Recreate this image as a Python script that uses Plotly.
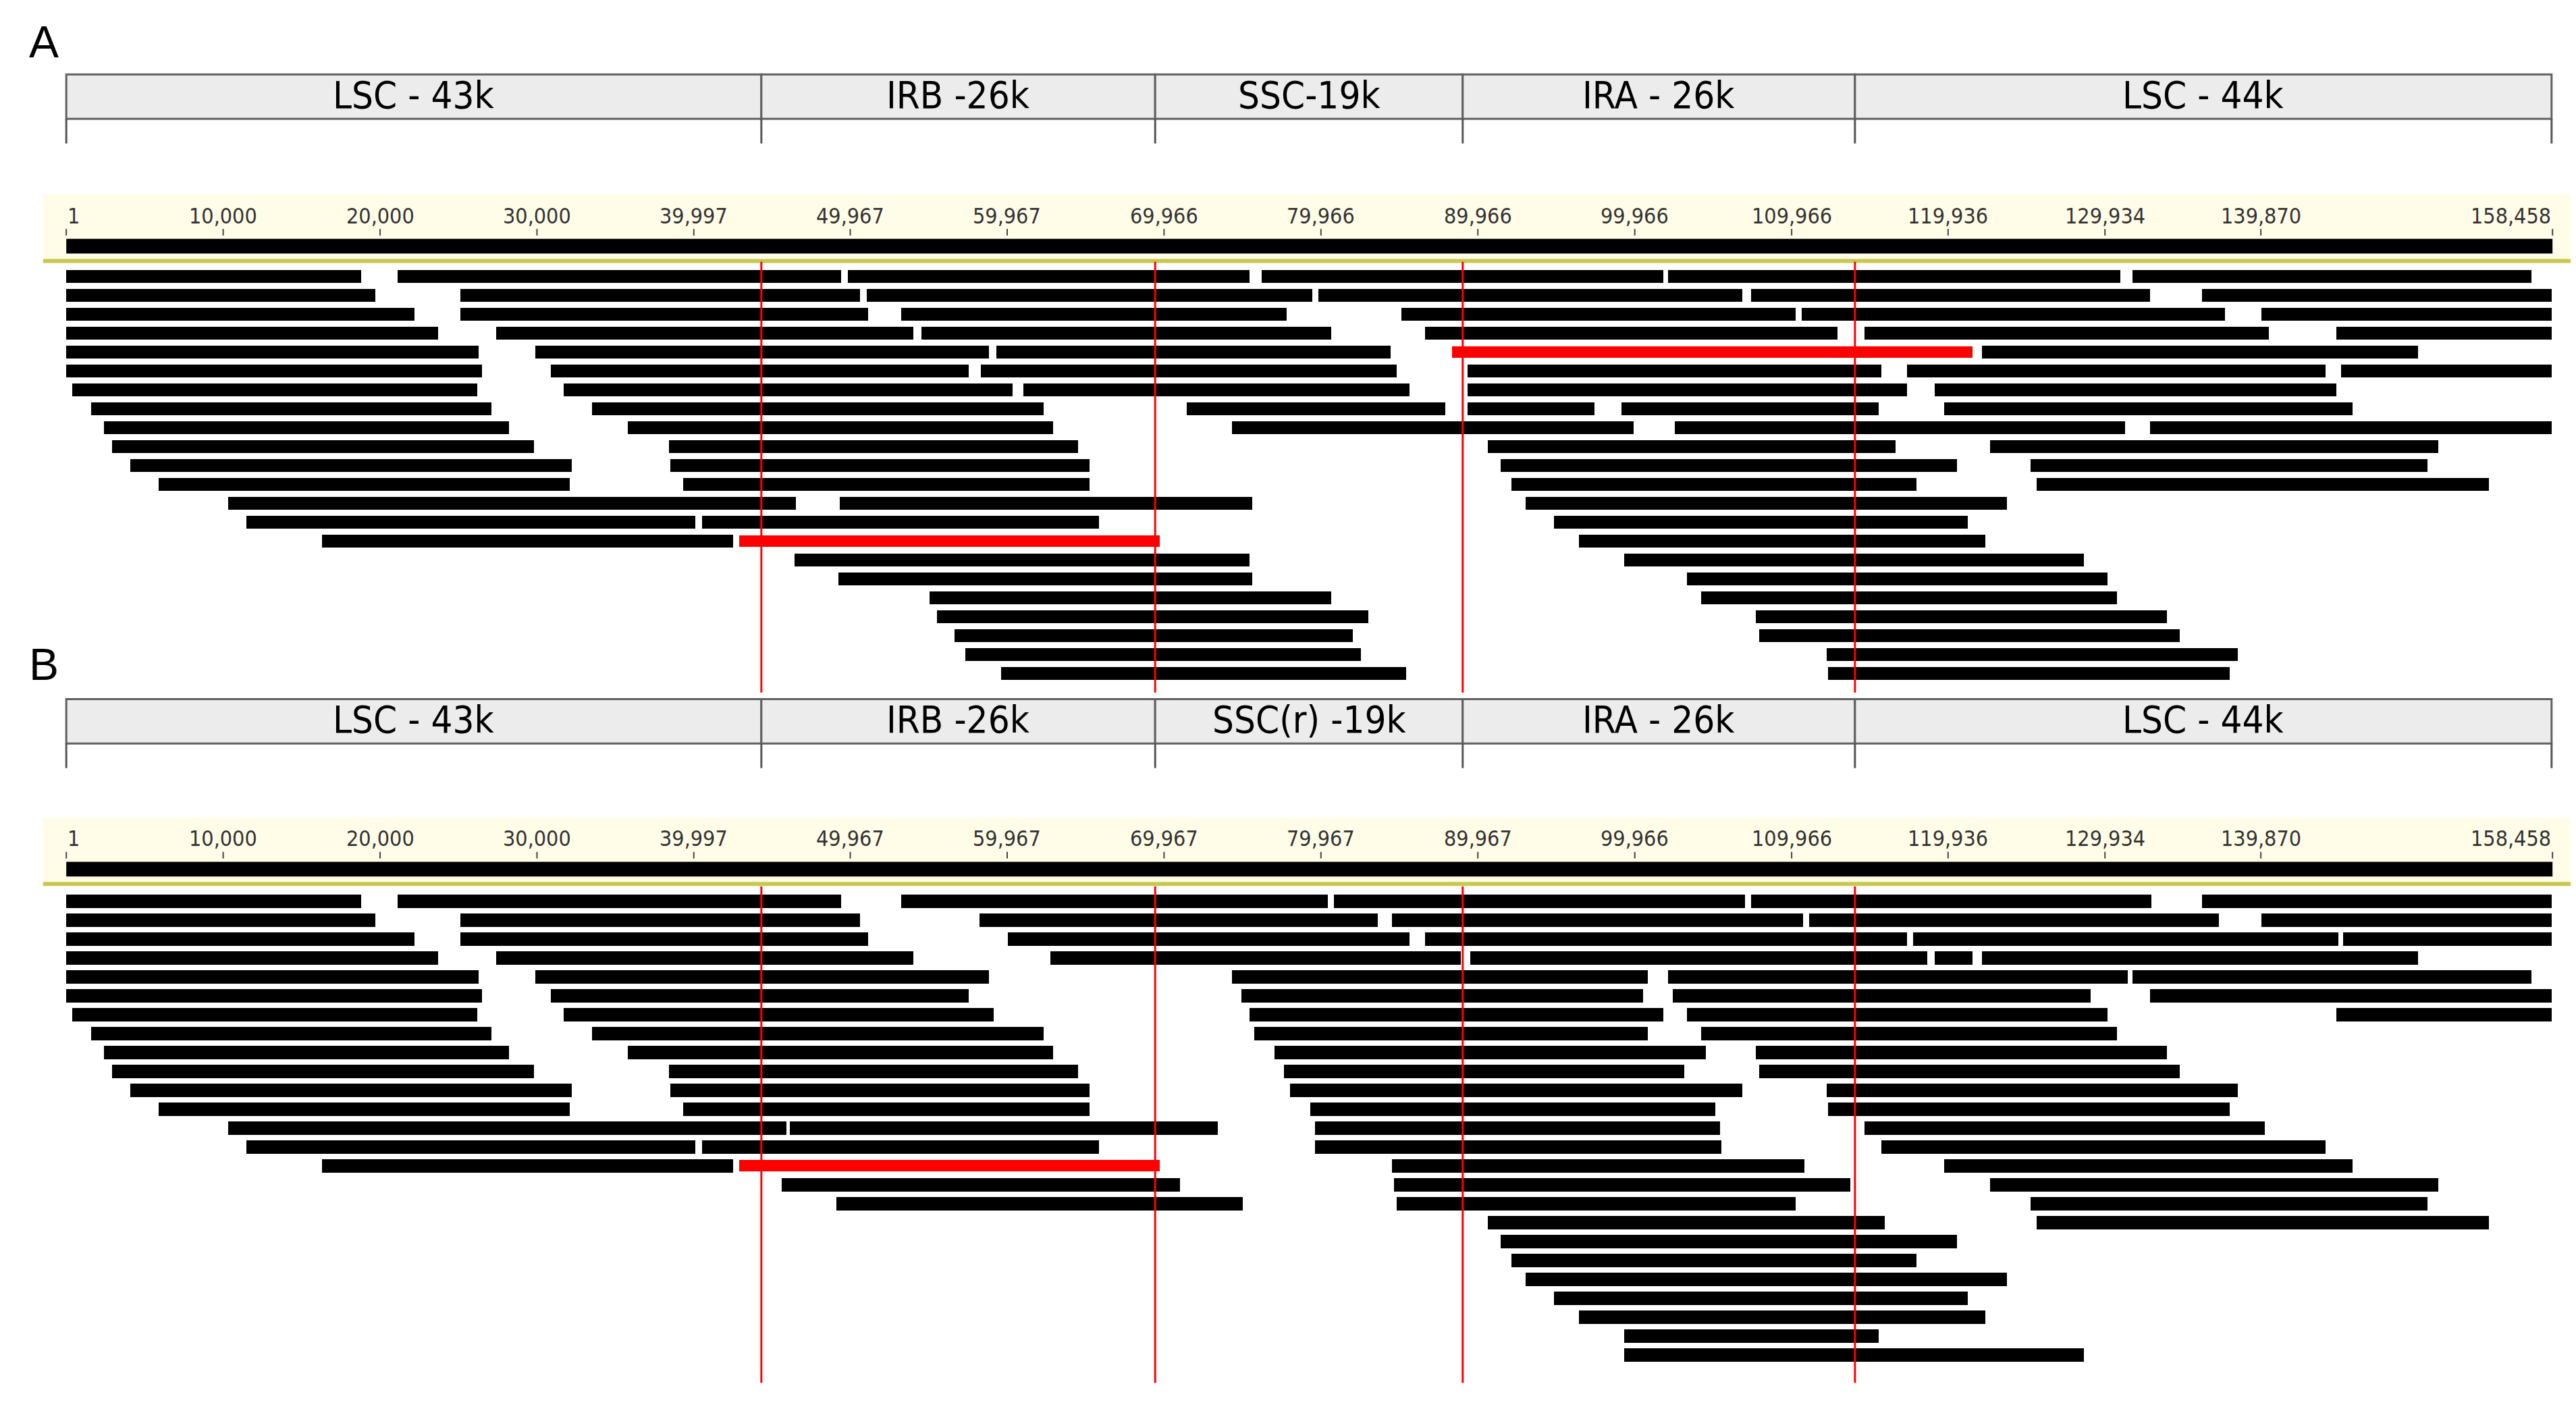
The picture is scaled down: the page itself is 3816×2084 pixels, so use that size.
import plotly.graph_objects as go

# genome in kb
GENOME_KB = 158.458
regions = ["LSC - 43k", "IRB -26k", "SSC-19k", "IRA - 26k", "LSC - 44k"]
regions_b = ["LSC - 43k", "IRB -26k", "SSC(r) -19k", "IRA - 26k", "LSC - 44k"]
bounds = [0.0, 44.3, 69.4, 89.0, 114.0, 158.4]
tick_vals = [1, 10000, 20000, 30000, 39997, 49967, 59967, 69966, 79966, 89966, 99966, 109966, 119936, 129934, 139870, 158458]
tick_text_a = ["1", "10,000", "20,000", "30,000", "39,997", "49,967", "59,967", "69,966", "79,966", "89,966", "99,966", "109,966", "119,936", "129,934", "139,870", "158,458"]
tick_text_b = ["1", "10,000", "20,000", "30,000", "39,997", "49,967", "59,967", "69,967", "79,967", "89,967", "99,966", "109,966", "119,936", "129,934", "139,870", "158,458"]

# reads (start kb, end kb) per row
rows_a = [
    [(0, 18.8), (21.1, 49.4), (49.8, 75.4), (76.2, 101.8), (102.1, 130.9), (131.7, 157.1)],
    [(0, 19.7), (25.1, 50.6), (51.0, 79.4), (79.8, 106.8), (107.4, 132.8), (136.1, 158.4)],
    [(0, 22.2), (25.1, 51.1), (53.2, 77.8), (85.1, 110.2), (110.6, 137.6), (139.9, 158.4)],
    [(0, 23.7), (27.4, 54.0), (54.5, 80.6), (86.6, 112.9), (114.6, 140.4), (144.7, 158.4)],
    [(0, 26.3), (29.9, 58.8), (59.3, 84.4), (122.1, 149.9)],
    [(0, 26.5), (30.9, 57.5), (58.3, 84.8), (89.3, 115.7), (117.3, 144.0), (145.0, 158.4)],
    [(0.4, 26.2), (31.7, 60.3), (61.0, 85.6), (89.3, 117.3), (119.1, 144.7)],
    [(1.6, 27.1), (33.5, 62.3), (71.4, 87.9), (89.3, 97.4), (99.1, 115.5), (119.7, 145.7)],
    [(2.4, 28.2), (35.8, 62.9), (74.3, 99.9), (102.5, 131.2), (132.8, 158.4)],
    [(2.9, 29.8), (38.4, 64.5), (90.6, 116.6), (122.6, 151.2)],
    [(4.1, 32.2), (38.5, 65.2), (91.4, 120.5), (125.2, 150.5)],
    [(5.9, 32.1), (39.3, 65.2), (92.1, 117.9), (125.6, 154.4)],
    [(10.3, 46.5), (49.3, 75.6), (93.0, 123.7)],
    [(11.5, 40.1), (40.5, 65.8), (94.8, 121.2)],
    [(16.3, 42.5), (96.4, 122.3)],
    [(46.4, 75.4), (99.3, 128.6)],
    [(49.2, 75.6), (103.3, 130.1)],
    [(55.0, 80.6), (104.2, 130.7)],
    [(55.5, 83.0), (107.7, 133.9)],
    [(56.6, 82.0), (107.9, 134.7)],
    [(57.3, 82.5), (112.2, 138.4)],
    [(59.6, 85.4), (112.3, 137.9)],
]
red_a = [(4, 88.3, 121.5), (14, 42.9, 69.7)]

rows_b = [
    [(0, 18.8), (21.1, 49.4), (53.2, 80.4), (80.8, 107.0), (107.4, 132.9), (136.1, 158.4)],
    [(0, 19.7), (25.1, 50.6), (58.2, 83.6), (84.5, 110.7), (111.1, 137.2), (139.9, 158.4)],
    [(0, 22.2), (25.1, 51.1), (60.0, 85.6), (86.6, 117.3), (117.7, 144.8), (145.1, 158.4)],
    [(0, 23.7), (27.4, 54.0), (62.7, 88.9), (89.5, 118.6), (119.1, 121.5), (122.1, 149.9)],
    [(0, 26.3), (29.9, 58.8), (74.3, 100.8), (102.1, 131.4), (131.7, 157.1)],
    [(0, 26.5), (30.9, 57.5), (74.9, 100.5), (102.4, 129.0), (132.8, 158.4)],
    [(0.4, 26.2), (31.7, 59.1), (75.4, 101.8), (103.3, 130.1), (144.7, 158.4)],
    [(1.6, 27.1), (33.5, 62.3), (75.7, 100.8), (104.2, 130.7)],
    [(2.4, 28.2), (35.8, 62.9), (77.0, 104.5), (107.7, 133.9)],
    [(2.9, 29.8), (38.4, 64.5), (77.6, 103.1), (107.9, 134.7)],
    [(4.1, 32.2), (38.5, 65.2), (78.0, 106.8), (112.2, 138.4)],
    [(5.9, 32.1), (39.3, 65.2), (79.3, 105.1), (112.3, 137.9)],
    [(10.3, 45.9), (46.1, 73.4), (79.6, 105.4), (114.6, 140.1)],
    [(11.5, 40.1), (40.5, 65.8), (79.6, 105.5), (115.7, 144.0)],
    [(16.3, 42.5), (84.5, 110.8), (119.7, 145.7)],
    [(45.6, 71.0), (84.6, 113.7), (122.6, 151.2)],
    [(49.1, 75.0), (84.8, 110.2), (125.2, 150.5)],
    [(90.6, 115.9), (125.6, 154.4)],
    [(91.4, 120.5)],
    [(92.1, 117.9)],
    [(93.0, 123.7)],
    [(94.8, 121.2)],
    [(96.4, 122.3)],
    [(99.3, 115.5)],
    [(99.3, 128.6)],
]
red_b = [(14, 42.9, 69.7)]

# ---- layout geometry (display units, y downwards)
X0 = -3.88
X1 = 160.3
panels = [
    dict(label="A", ly=22, hdr=(42, 69), tick_end=84, rul=(115, 157), lab_y=128, mk=(136, 140),
         bar=(142, 151), olive=155.5, row0=165.0, dy=11.5, red_v=(156, 418),
         rows=rows_a, red=red_a, names=regions, ticks=tick_text_a),
    dict(label="B", ly=401, hdr=(422, 449), tick_end=464, rul=(494, 536), lab_y=507, mk=(515, 519),
         bar=(521, 530), olive=534.5, row0=545.0, dy=11.5, red_v=(536, 838),
         rows=rows_b, red=red_b, names=regions_b, ticks=tick_text_b),
]

fig = go.Figure()
shapes = []
annotations = []
FONT = "Liberation Sans Narrow, DejaVu Sans Condensed, Arial Narrow, sans-serif"

for p in panels:
    ys, xs, bs = [], [], []
    for i, row in enumerate(p["rows"]):
        for s, e in row:
            ys.append(p["row0"] + i * p["dy"])
            bs.append(s)
            xs.append(e - s)
    fig.add_trace(go.Bar(orientation="h", y=ys, x=xs, base=bs, width=8,
                         marker=dict(color="black", line=dict(width=0)), showlegend=False,
                         hoverinfo="skip"))
    ry, rx, rb = [], [], []
    for i, s, e in p["red"]:
        ry.append(p["row0"] + i * p["dy"])
        rb.append(s)
        rx.append(e - s)
    fig.add_trace(go.Bar(orientation="h", y=ry, x=rx, base=rb, width=7,
                         marker=dict(color="#ff0000", line=dict(width=0)), showlegend=False,
                         hoverinfo="skip"))

    h0, h1 = p["hdr"]
    for k, name in enumerate(p["names"]):
        shapes.append(dict(type="rect", x0=bounds[k], x1=bounds[k + 1], y0=h0, y1=h1,
                           fillcolor="#ececec", line=dict(color="#606060", width=3), layer="below"))
        annotations.append(dict(x=(bounds[k] + bounds[k + 1]) / 2, y=(h0 + h1) / 2 - 1, text=name,
                                showarrow=False, font=dict(family=FONT, size=56, color="black")))
    for b in bounds:
        shapes.append(dict(type="line", x0=b, x1=b, y0=h1, y1=p["tick_end"],
                           line=dict(color="#555555", width=3)))

    r0, r1 = p["rul"]
    shapes.append(dict(type="rect", x0=X0 + 2.4, x1=X1, y0=r0, y1=r1,
                       fillcolor="#fffde8", line=dict(width=0), layer="below"))
    shapes.append(dict(type="rect", x0=0, x1=GENOME_KB, y0=p["bar"][0], y1=p["bar"][1],
                       fillcolor="black", line=dict(width=0)))
    shapes.append(dict(type="line", x0=X0 + 2.4, x1=X1, y0=p["olive"], y1=p["olive"],
                       line=dict(color="#c8c850", width=6)))
    for v, t in zip(tick_vals, p["ticks"]):
        xk = v / 1000.0
        anchor = "left" if v == 1 else ("right" if v == 158458 else "center")
        annotations.append(dict(x=xk, y=p["lab_y"], text=t, showarrow=False, xanchor=anchor,
                                font=dict(family=FONT, size=32, color="#333333")))
        shapes.append(dict(type="line", x0=xk, x1=xk, y0=p["mk"][0], y1=p["mk"][1],
                           line=dict(color="#444444", width=2)))

    for b in bounds[1:-1]:
        shapes.append(dict(type="line", x0=b, x1=b, y0=p["red_v"][0], y1=p["red_v"][1],
                           line=dict(color="#ff0000", width=3)))

    annotations.append(dict(x=X0 + 1.4, y=p["ly"], text=p["label"], showarrow=False,
                            xanchor="left", font=dict(family="Liberation Sans, Arial", size=66, color="black")))

fig.update_layout(
    width=3816, height=2084, margin=dict(l=0, r=0, t=0, b=0),
    paper_bgcolor="white", plot_bgcolor="white", bargap=0, barmode="overlay",
    xaxis=dict(range=[X0, X1], visible=False, fixedrange=True),
    yaxis=dict(range=[856, 0], visible=False, fixedrange=True),
    shapes=shapes, annotations=annotations,
)
fig.write_html("out.html")
